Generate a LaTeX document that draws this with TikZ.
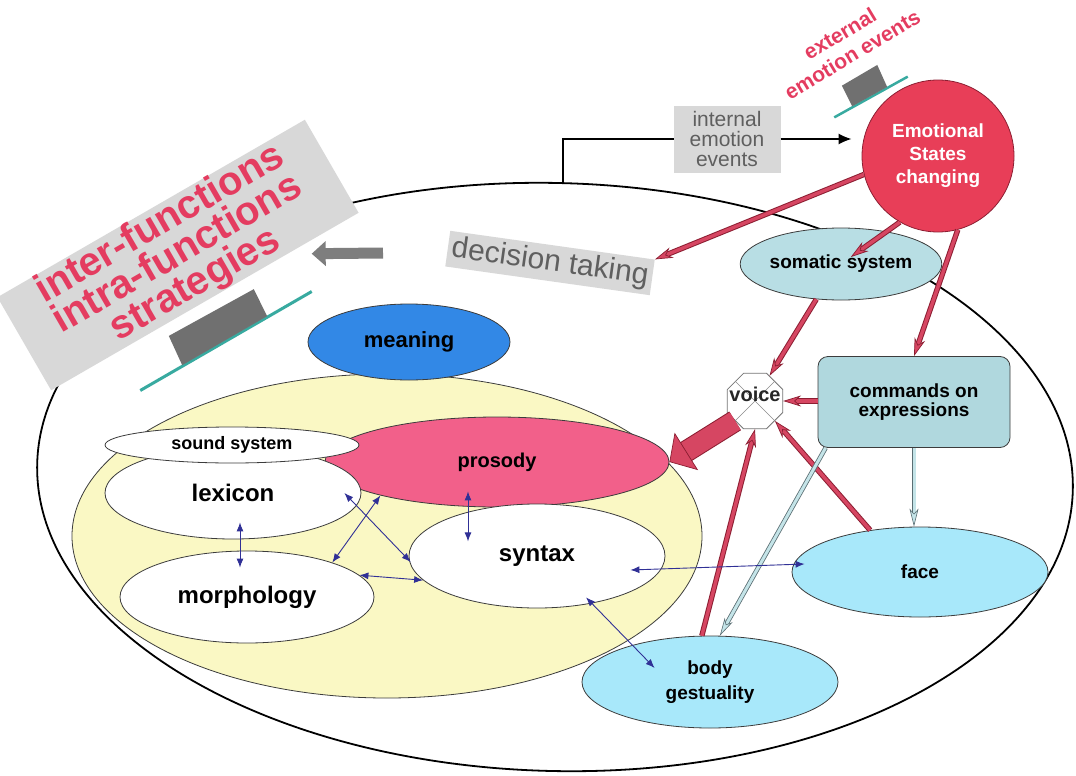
\documentclass[tikz,border=0pt]{standalone}
\usepackage{fontspec}
\setmainfont{Liberation Sans}
\usetikzlibrary{shapes.geometric,arrows.meta,calc}

\definecolor{ylw}{RGB}{250,248,196}
\definecolor{mblue}{RGB}{50,136,230}
\definecolor{prospink}{RGB}{242,96,138}
\definecolor{somablue}{RGB}{184,222,228}
\definecolor{cmdblue}{RGB}{176,216,222}
\definecolor{skyblue}{RGB}{168,232,250}
\definecolor{emored}{RGB}{232,62,88}
\definecolor{arrred}{RGB}{214,70,98}
\definecolor{arrdark}{RGB}{140,30,50}
\definecolor{lbfill}{RGB}{196,228,232}
\definecolor{lbdark}{RGB}{90,110,115}
\definecolor{navyarr}{RGB}{48,48,150}
\definecolor{boxgray}{RGB}{216,216,216}
\definecolor{txtgray}{RGB}{95,95,95}
\definecolor{strred}{RGB}{228,60,96}
\definecolor{hatgray}{RGB}{112,112,112}
\definecolor{hatteal}{RGB}{56,170,160}
\definecolor{ellline}{RGB}{60,60,60}

\tikzset{
  ell/.style={ellipse, draw=ellline, line width=0.8pt, inner sep=0pt},
  lbl/.style 2 args={font=\fontsize{#1}{#2}\selectfont\bfseries},
  redarr/.style={draw=arrred, line width=3.4pt,
    preaction={-, draw=arrdark, line width=5.4pt, shorten >=14pt},
    -{Stealth[length=18pt, width=11pt, inset=6pt, fill=arrred, color=arrdark, line width=0.7pt]}},
  bigarr/.style={draw=arrred, line width=20pt,
    preaction={-, draw=arrdark, line width=22pt, shorten >=14pt},
    -{Triangle[length=20pt, width=44pt, fill=arrred, color=arrdark, line width=0.7pt]}},
  lbarr/.style={draw=lbfill, line width=3pt,
    preaction={-, draw=lbdark, line width=4.6pt, shorten >=14pt},
    -{Stealth[length=18pt, width=9pt, inset=5pt, fill=lbfill, color=lbdark, line width=0.6pt]}},
  bluearr/.style={draw=navyarr, line width=0.9pt,
    {Latex[length=9pt, width=7pt]}-{Latex[length=9pt, width=7pt]}},
  grayarr/.style={draw=hatgray!90, line width=11pt, -{Triangle[length=14pt, width=24pt]}},
  blkarr/.style={line width=1.6pt, -{Latex[length=13pt, width=11pt]}},
  graybox/.style={fill=boxgray, text=txtgray}
}

\begin{document}
\begin{tikzpicture}[x=1pt, y=-1pt]
\useasboundingbox (0,0) rectangle (1076,776);

% the whole system
\node[ell, draw=black, line width=1.8pt, fill=white, minimum width=1036, minimum height=588, rotate=-1.5] (world) at (555,477) {};

% language
\node[ell, fill=ylw, minimum width=630, minimum height=324] (lang) at (387,536) {};
\node[ell, fill=mblue, minimum width=202, minimum height=76, lbl={22}{24}] (meaning) at (409,342) {meaning};
\node[ell, fill=prospink, minimum width=344, minimum height=90, lbl={20}{22}] (pros) at (497,462) {prosody};
\node[ell, fill=white, minimum width=256, minimum height=92, lbl={24}{26}] (lex) at (233,493) {lexicon};
\node[ell, fill=white, minimum width=254, minimum height=36, lbl={18}{20}] (sound) at (232,445) {sound system};
\node[ell, fill=white, minimum width=254, minimum height=92, lbl={24}{26}] (morph) at (247,597) {morphology};
\node[ell, fill=white, minimum width=256, minimum height=104, lbl={24}{26}] (syn) at (537,556) {syntax};

% body side
\node[ell, fill=somablue, minimum width=194, minimum height=72, lbl={19}{21}] (soma) at (841,264) {somatic system};
\node[draw=ellline, line width=0.8pt, fill=cmdblue, rounded corners=10pt, minimum width=192, minimum height=91, align=center, lbl={19}{19}] (cmd) at (914,402) {commands on\\expressions};
\node[ell, fill=skyblue, minimum width=256, minimum height=90, lbl={19}{21}] (face) at (920,572) {face};
\node[ell, fill=skyblue, minimum width=256, minimum height=92, align=center, lbl={19}{25}] (body) at (710,682) {body\\gestuality};
\node[regular polygon, regular polygon sides=8, draw=ellline!70, line width=0.8pt, fill=white, minimum size=60, inner sep=0pt] (voice) at (755,401) {};
\draw[ellline!60, line width=0.6pt] (voice.135) -- (voice.-45) (voice.45) -- (voice.225);

% strategies
\node[graybox, text=strred, rotate=30, minimum width=355, minimum height=98, inner sep=0pt, align=center, lbl={40}{35}] (strat) at (178,255) {inter-functions\\intra-functions\\strategies};
\begin{scope}[shift={(226,341)}, rotate=30]
  \draw[hatteal, line width=3pt] (-99,0) -- (99,0);
  \fill[hatgray] (-50,-1) -- (-47,-33) -- (50,-31) -- (48,-1) -- cycle;
\end{scope}
\coordinate (gtail) at (383,253);
\draw[grayarr, shorten >=24pt] (gtail) -- (strat);

% emotions
\node[graybox, rotate=-8, inner sep=4pt, font=\fontsize{30}{32}\selectfont] (dec) at (550,263) {decision taking};
\coordinate (wtop) at (563,184);
\draw[line width=1.6pt] (wtop) |- (727,139);
\node[graybox, minimum width=107, minimum height=67, inner sep=1pt, align=center, font=\fontsize{21}{20}\selectfont] (intbox) at (727,139) {internal\\emotion\\events};
\node[text=strred, rotate=31, align=center, lbl={21}{24}] (ext) at (846,44) {external\\emotion events};
\begin{scope}[shift={(871,97)}, rotate=29]
  \draw[hatteal, line width=2.5pt] (-42,0) -- (42,0);
  \fill[hatgray] (-21,-1) -- (-20,-24) -- (21,-25) -- (19,-1) -- cycle;
\end{scope}
\node[circle, draw=arrdark, line width=0.8pt, fill=emored, minimum size=152, text=white, align=center, lbl={19}{23}] (emo) at (938,156) {Emotional\\States\\changing};
\draw[blkarr, shorten >=10pt] (intbox.east) -- (intbox.east -| emo.west);

% red arrows
\draw[redarr] (emo.194) -- (dec.north east);
\draw[redarr] (emo.240) -- ($(soma.center)!12pt!(emo.240)$);
\draw[redarr] (emo.285) -- (cmd.north);
\draw[redarr] (soma.235) -- (voice.60);
\draw[redarr] (cmd.west |- voice) -- (voice.east);
\draw[bigarr] (voice.225) -- (pros.east);
\draw[redarr] (body.100) -- (voice.south);
\draw[redarr] (face.140) -- (voice.south east);

% light arrows
\draw[lbarr] (cmd.south) -- (cmd.south |- face.north);
\draw[lbarr] ([xshift=8pt]cmd.south west) -- (body.78);

% blue arrows
\draw[bluearr] ([xshift=7pt,yshift=17pt]lex.south) -- ([xshift=-7pt,yshift=-17pt]morph.north);
\draw[bluearr] ([xshift=-17pt]lex.east) -- ([xshift=2pt,yshift=-6pt]syn.west);
\draw[bluearr] (pros.196) -- (morph.22);
\draw[bluearr] (morph.11) -- (syn.192);
\draw[bluearr] ([xshift=-29pt,yshift=16pt]pros.south) -- ([xshift=-29pt,yshift=-34pt]pros.south);
\draw[bluearr] ([xshift=-35pt,yshift=-14pt]syn.east) -- ([xshift=13pt,yshift=8pt]face.west);
\draw[bluearr] ([xshift=49pt,yshift=11pt]syn.south) -- ([xshift=73pt,yshift=14pt]body.west);

\node[lbl={20}{22}, text=black!85] (voicetxt) at ([yshift=7pt]voice.center) {voice};
\end{tikzpicture}
\end{document}
